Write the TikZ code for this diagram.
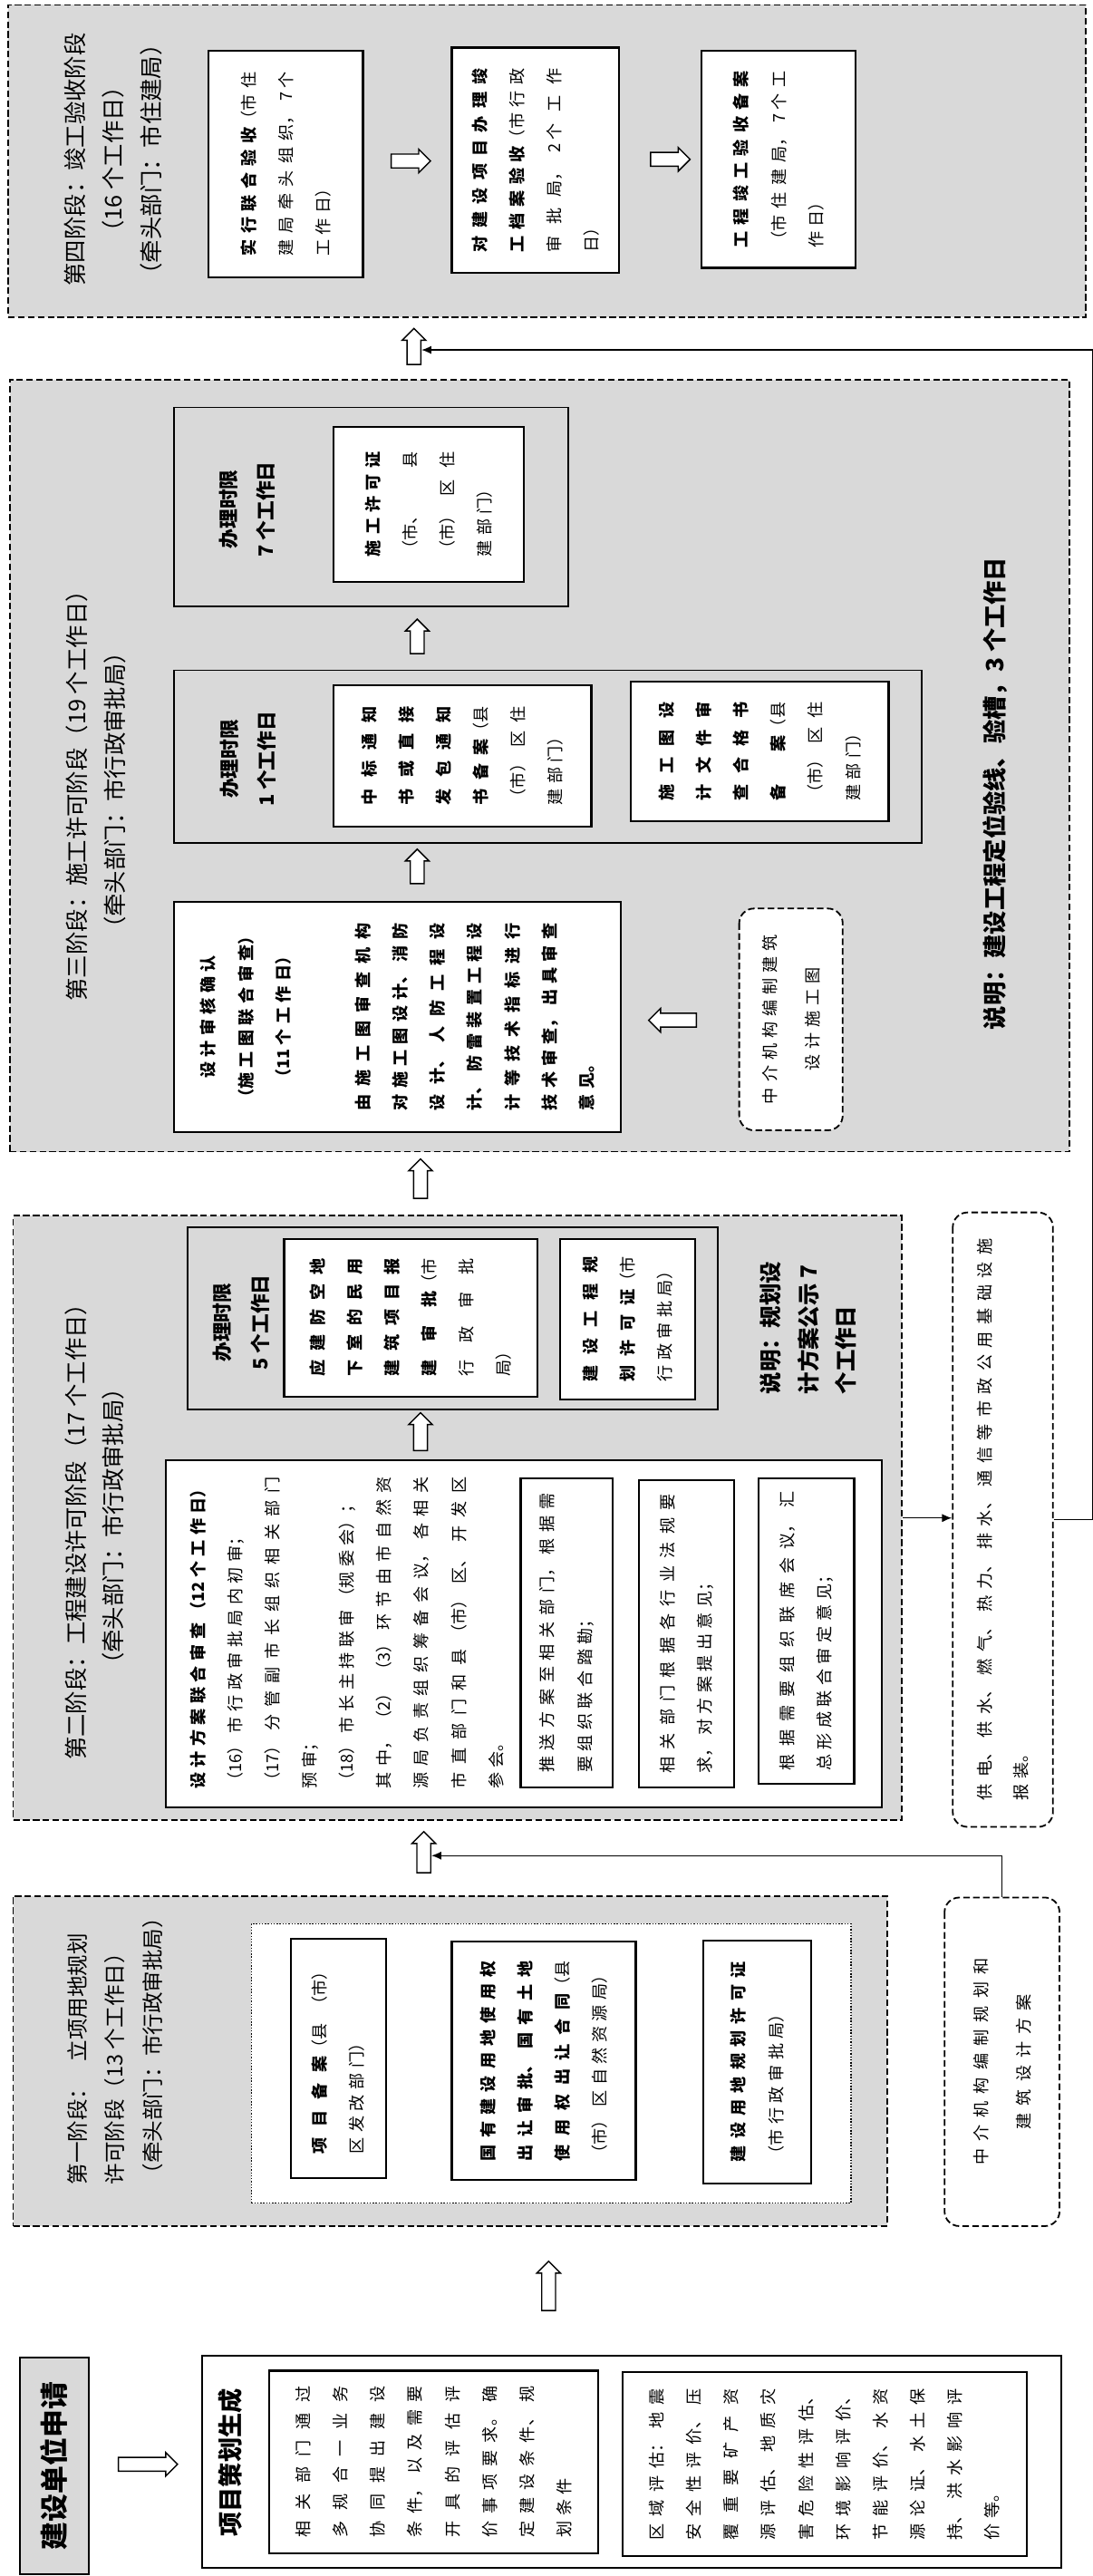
\documentclass[tikz,border=0pt]{standalone}
\usepackage{fontspec}
\setmainfont{Noto Sans CJK SC}
\usetikzlibrary{arrows.meta}
\usetikzlibrary{shapes.arrows}
\definecolor{stagegray}{RGB}{217,217,217}
\newcommand{\cjkgap}[1]{\XeTeXlinebreaklocale "zh"\XeTeXlinebreakskip=#1\relax}
\newcommand{\cjkfill}[1][3pt]{\cjkgap{#1 plus 1fil}\leftskip=0pt\rightskip=0pt\parfillskip=0pt plus 1fill\relax}
\newcommand{\cjkmid}{\leftskip=0pt plus 1fill\rightskip=0pt plus 1fill\parfillskip=0pt\relax}

\begin{document}
\begin{tikzpicture}[x=1pt,y=-1pt]
\tikzset{>={Latex[width=5pt,length=6pt]}}
\tikzstyle{stage}=[draw,line width=1pt,dash pattern=on 4pt off 2pt,fill=stagegray,inner sep=0pt]
\tikzstyle{limit}=[draw,line width=1pt,fill=stagegray,inner sep=0pt]
\tikzstyle{plain}=[draw,line width=1.2pt,fill=white,inner sep=0pt]
\tikzstyle{dotbox}=[draw,densely dotted,line width=0.8pt,fill=white,inner sep=0pt]
\tikzstyle{vpara}=[rotate=90,inner sep=0pt,align=justify,font={\fontsize{10}{22.7}\selectfont},execute at begin node=\cjkfill]
\tikzstyle{tbox}=[vpara,draw,line width=1.2pt,fill=white]
\tikzstyle{vtitle}=[rotate=90,inner sep=0pt,font={\fontsize{14}{23}\selectfont}]
\tikzstyle{vnote}=[vtitle,font={\fontsize{14.5}{23}\selectfont\bfseries}]
\tikzstyle{vlimit}=[rotate=90,inner sep=0pt,align=center,font={\fontsize{12}{23}\selectfont\bfseries}]
\tikzstyle{agency}=[rotate=90,draw,line width=1pt,dash pattern=on 4pt off 2pt,rounded corners=9pt,fill=white,inner sep=0pt,align=center,font={\fontsize{10}{26}\selectfont}]
\tikzstyle{uparr}=[single arrow,draw,fill=white,line width=0.8pt,inner sep=3.8pt,single arrow head extend=3pt,shape border rotate=90]
\tikzstyle{rarr}=[uparr,shape border rotate=0]
\tikzstyle{larr}=[uparr,shape border rotate=180]
\useasboundingbox (0,0) rectangle (665,1568);

\node[stage,minimum width=656pt,minimum height=190pt] (st4) at (333,98) {};
\node[stage,minimum width=645pt,minimum height=470pt] (st3) at (328.5,466) {};
\node[stage,minimum width=541pt,minimum height=368pt] (st2) at (278.5,924) {};
\node[stage,minimum width=532pt,minimum height=201pt] (st1) at (274,1254.5) {};

\node[vtitle,align=center] (t4) at (69,97) {第四阶段：竣工验收阶段\\（16 个工作日）\\（牵头部门：市住建局）};
\node[tbox,minimum width=138pt,minimum height=94pt,text width=112pt] (a1) at (174,100) {{\bfseries 实行联合验收}（市住\linebreak 建局牵头组织，7 个\linebreak 工作日）};
\node[tbox,minimum width=137pt,minimum height=102pt,text width=112pt] (a2) at (326,97.5) {{\bfseries 对建设项目办理竣\linebreak 工档案验收}（市行政\linebreak 审批局，2 个工作\linebreak 日）};
\node[tbox,minimum width=132pt,minimum height=94pt,text width=108pt] (a3) at (474,97) {{\bfseries 工程竣工验收备案}\linebreak（市住建局，7 个工\linebreak 作日）};
\node[rarr,minimum height=24pt] (r1) at (248,98) {};
\node[rarr,minimum height=24pt] (r2) at (406,97) {};
\node[uparr,minimum height=22pt] (a34) at (252,213) {};

\node[vtitle,align=center] (t3) at (58.5,481) {第三阶段：施工许可阶段（19 个工作日）\\（牵头部门：市行政审批局）};
\node[limit,minimum width=240pt,minimum height=121pt] (g7) at (226,308.5) {};
\node[vlimit] (g7t) at (150.5,310) {办理时限\\7 个工作日};
\node[tbox,minimum width=94pt,minimum height=116pt,text width=64pt] (sg) at (261,307) {{\bfseries 施工许可证}\linebreak（市、县\linebreak（市）区住\linebreak 建部门）};
\node[uparr,minimum height=21pt] (u71) at (254,389.5) {};
\node[limit,minimum width=455pt,minimum height=105pt] (g1) at (333.5,460.5) {};
\node[vlimit] (g1t) at (151,462) {办理时限\\1 个工作日};
\node[tbox,minimum width=86pt,minimum height=157pt,text width=60pt] (sz) at (281.5,460) {{\bfseries 中标通知\linebreak 书或直接\linebreak 发包通知\linebreak 书备案}（县\linebreak（市）区住\linebreak 建部门）};
\node[tbox,minimum width=85pt,minimum height=157pt,text width=60pt] (ss) at (462.5,457.5) {{\bfseries 施工图设\linebreak 计文件审\linebreak 查合格书\linebreak 备案}（县\linebreak（市）区住\linebreak 建部门）};
\node[uparr,minimum height=21pt] (u1j) at (254,529.5) {};
\node[tbox,minimum width=140pt,minimum height=272pt,text width=114pt] (sj) at (242,619) {{\bfseries{\cjkmid 设计审核确认\par（施工图联合审查）\par（11 个工作日）\par}\vspace{26pt}由施工图审查机构\linebreak 对施工图设计、消防\linebreak 设计、人防工程设\linebreak 计、防雷装置工程设\linebreak 计等技术指标进行\linebreak 技术审查，出具审查\linebreak 意见。}};
\node[larr,minimum height=29pt] (lj) at (411.5,621) {};
\node[agency,minimum width=135pt,minimum height=63pt,text width=112pt,execute at begin node={\cjkgap{3.3pt}\cjkmid}] (zj3) at (481.5,620.5) {中介机构编制建筑\\设计施工图};
\node[vnote] (sm3) at (606,483) {说明：建设工程定位验线、验槽，3 个工作日};

\node[uparr,minimum height=24pt] (a23) at (256,719.5) {};
\node[vtitle,align=center] (t2) at (57.5,929) {第二阶段：工程建设许可阶段（17 个工作日）\\（牵头部门：市行政审批局）};
\node[limit,minimum width=323pt,minimum height=111pt] (g5) at (275.5,802.5) {};
\node[vlimit] (g5t) at (147,805) {办理时限\\5 个工作日};
\node[tbox,minimum width=96pt,minimum height=154pt,text width=72pt] (sy) at (250,802) {{\bfseries 应建防空地\linebreak 下室的民用\linebreak 建筑项目报\linebreak 建审批}（市\linebreak 行政审批\linebreak 局）};
\node[tbox,minimum width=98pt,minimum height=82pt,text width=76pt] (sg2) at (382,803) {{\bfseries 建设工程规\linebreak 划许可证}（市\linebreak 行政审批局）};
\node[vlimit,align=left,anchor=west,font={\fontsize{13.5}{23}\selectfont\bfseries}] (sm2) at (492,849) {说明：规划设\\计方案公示 7\\个工作日};
\node[uparr,minimum height=23pt] (u5) at (256,873.5) {};
\node[plain,minimum width=436pt,minimum height=211pt] (sf) at (319,994.5) {};
\node[vpara,text width=190pt] (sft) at (211,994) {{\bfseries 设计方案联合审查（12 个工作日）}\par（16）市行政审批局内初审；\par（17）分管副市长组织相关部门\linebreak 预审；\par（18）市长主持联审（规委会）；\par 其中，（2）（3）环节由市自然资\linebreak 源局负责组织筹备会议，各相关\linebreak 市直部门和县（市）区、开发区\linebreak 参会。};
\node[tbox,minimum width=188pt,minimum height=56pt,text width=170pt] (sf1) at (345,994) {推送方案至相关部门，根据需\linebreak 要组织联合踏勘；};
\node[tbox,minimum width=187pt,minimum height=58pt,text width=170pt] (sf2) at (418,994.5) {相关部门根据各行业法规要\linebreak 求，对方案提出意见；};
\node[tbox,minimum width=186pt,minimum height=58pt,text width=170pt] (sf3) at (491,993) {根据需要组织联席会议，汇\linebreak 总形成联合审定意见；};
\node[agency,minimum width=374pt,minimum height=61pt,align=justify,text width=342pt,font={\fontsize{10}{22}\selectfont},execute at begin node=\cjkfill] (gd) at (610.5,925) {供电、供水、燃气、热力、排水、通信等市政公用基础设施\linebreak 报装。};

\node[uparr,minimum height=25pt] (a12) at (258,1129.5) {};
\node[vtitle,anchor=west,align=left,font={\fontsize{13}{23}\selectfont}] (t1) at (70,1330) {第一阶段：\hspace{10pt}立项用地规划\\许可阶段（13 个工作日）\\（牵头部门：市行政审批局）};
\node[dotbox,minimum width=365pt,minimum height=170pt] (dt) at (335.5,1256) {};
\node[tbox,minimum width=146pt,minimum height=58pt,text width=116pt] (xm) at (206,1253) {{\bfseries 项目备案}（县（市）\linebreak 区发改部门）};
\node[tbox,minimum width=145pt,minimum height=112pt,text width=122pt] (gy) at (331,1254.5) {{\bfseries 国有建设用地使用权\linebreak 出让审批、国有土地\linebreak 使用权出让合同}（县\linebreak（市）区自然资源局）};
\node[tbox,minimum width=148pt,minimum height=66pt,text width=122pt] (jg) at (461,1255) {{\bfseries 建设用地规划许可证}\linebreak（市行政审批局）};
\node[agency,minimum width=200pt,minimum height=70pt,text width=140pt,execute at begin node={\cjkgap{4.5pt}\cjkmid}] (zj1) at (610,1255) {中介机构编制规划和\\建筑设计方案};

\node[uparr,minimum height=30pt] (a01) at (334,1393.5) {};
\node[rotate=90,draw,line width=1.2pt,fill=stagegray,minimum width=132pt,minimum height=42pt,font={\fontsize{17}{20}\selectfont\bfseries}] (sq) at (33,1501) {建设单位申请};
\node[rarr,minimum height=36pt] (a0) at (88,1500) {};
\node[plain,minimum width=523pt,minimum height=129pt] (ch) at (384.5,1498.5) {};
\node[rotate=90,inner sep=0pt,font={\fontsize{15}{20}\selectfont\bfseries}] (cht) at (140,1499) {项目策划生成};
\node[tbox,minimum width=111pt,minimum height=200pt,text width=92pt] (ch1) at (264,1498.5) {相关部门通过\linebreak 多规合一业务\linebreak 协同提出建设\linebreak 条件，以及需要\linebreak 开具的评估评\linebreak 价事项要求。确\linebreak 定建设条件、规\linebreak 划条件};
\node[tbox,minimum width=112pt,minimum height=246pt,text width=92pt] (ch2) at (502,1500) {区域评估：地震\linebreak 安全性评价、压\linebreak 覆重要矿产资\linebreak 源评估、地质灾\linebreak 害危险性评估、\linebreak 环境影响评价、\linebreak 节能评价、水资\linebreak 源论证、水土保\linebreak 持、洪水影响评\linebreak 价等。};

\draw [->,thick] (st2.east) -- (st2.east -| gd.north);
\draw [->,thick] (gd.south) -- ++(23.5,0) |- (a34);
\draw [->,thick] (zj1.east) |- (a12);
\end{tikzpicture}
\end{document}
